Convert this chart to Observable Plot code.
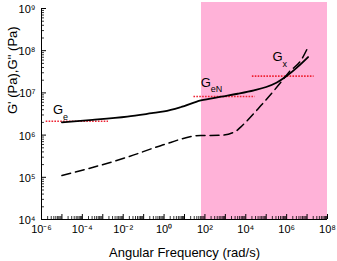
<!DOCTYPE html>
<html><head><meta charset="utf-8">
<script src="https://cdn.jsdelivr.net/npm/d3@7"></script>
<script src="https://cdn.jsdelivr.net/npm/@observablehq/plot@0.6"></script>
<style>body{margin:0;background:#fff} #chart{width:337px;height:261px}</style>
</head><body><div id="chart"></div>
<script>
// ---- data ----
const omegaGp = [1e-5, 3.16e-4, 1.58e-2, 0.25, 1, 6.3, 63, 631, 3981, 2.51e4, 1e5, 3.16e5, 1e6, 3.16e6, 1.12e7];
const Gp      = [2.0e6, 2.29e6, 2.75e6, 3.3e6, 3.63e6, 4.57e6, 6.61e6, 8.13e6, 9.55e6, 1.15e7, 1.38e7, 1.74e7, 2.51e7, 3.98e7, 7.08e7];
const omegaGpp = [1e-5, 1.6e-2, 0.68, 62, 590, 3.2e3, 5.6e3, 5.5e4, 5.2e5, 1.3e6, 5e6, 1.1e7];
const Gpp      = [1.1e5, 3.0e5, 5.6e5, 9.8e5, 9.9e5, 1.23e6, 1.55e6, 5.0e6, 1.78e7, 3.1e7, 5.9e7, 1.2e8];
const refNames = ["Ge", "GeN", "Gx"];
const refFrom  = [1.7e-6, 29, 2.1e4];
const refTo    = [1.9e-3, 2.9e4, 2.2e7];
const refLevel = [2.13e6, 8.2e6, 2.5e7];
const labelSubs = ["e", "eN", "x"];
const labelOmega = [3.7e-6, 62, 2.04e5];
const labelG     = [4.0e6, 1.76e7, 7.2e7];
const regionOmega = [68, 1e8];
const xExponents = [-6, -5, -4, -3, -2, -1, 0, 1, 2, 3, 4, 5, 6, 7, 8];
const xLabelExponents = [-6, -4, -2, 0, 2, 4, 6, 8];
const yExponents = [4, 5, 6, 7, 8, 9];
const xTitle = "Angular Frequency (rad/s)";
const yTitle = "G' (Pa),G'' (Pa)";

// ---- helpers ----
const W = 337, H = 261, mL = 41, mR = 10, mT = 8, mB = 42;
const pw = W - mL - mR, ph = H - mT - mB;
const supMap = {"0":"⁰","1":"¹","2":"²","3":"³","4":"⁴","5":"⁵","6":"⁶","7":"⁷","8":"⁸","9":"⁹","-":"⁻"};
const sup = n => String(n).split("").map(c => supMap[c] || c).join("");
const gp = omegaGp.map((w, i) => ({w, G: Gp[i]}));
const gpp = omegaGpp.map((w, i) => ({w, G: Gpp[i]}));
const refs = refNames.map((n, i) => ({n, w1: refFrom[i], w2: refTo[i], G: refLevel[i]}));
const labels = labelSubs.map((s, i) => ({s, w: labelOmega[i], G: labelG[i]}));
const xMajor = xExponents.map(e => 10 ** e);
const xMinor = xExponents.slice(0, -1).flatMap(e => d3.range(2, 10).map(k => k * 10 ** e));
const yMajor = yExponents.map(e => 10 ** e);
const yMinor = yExponents.slice(0, -1).flatMap(e => d3.range(2, 10).map(k => k * 10 ** e));
const xDom = [10 ** xExponents[0], 10 ** xExponents[xExponents.length - 1]];
const yDom = [10 ** yExponents[0], 10 ** yExponents[yExponents.length - 1]];
const pinkTop = 10 ** (yExponents[yExponents.length - 1] + 6 / (ph / (yExponents.length - 1)));

const chart = Plot.plot({
  width: W, height: H,
  marginLeft: mL, marginRight: mR, marginTop: mT, marginBottom: mB,
  style: {fontFamily: "'Liberation Sans', Arial, sans-serif", background: "#fff"},
  x: {type: "log", domain: xDom, axis: null},
  y: {type: "log", domain: yDom, axis: null},
  marks: [
    Plot.rect([0], {x1: () => regionOmega[0], x2: () => regionOmega[1], y1: () => yDom[0], y2: () => pinkTop, fill: "#ffb2d8"}),
    Plot.ruleY(refs, {y: "G", x1: "w1", x2: "w2", stroke: "#ee2233", strokeWidth: 1.6, strokeDasharray: "1.6,1.3"}),
    Plot.line(gpp, {x: "w", y: "G", stroke: "#000", strokeWidth: 1.5, strokeDasharray: "9,5", curve: "monotone-x"}),
    Plot.line(gp, {x: "w", y: "G", stroke: "#000", strokeWidth: 1.8, curve: "monotone-x"}),
    Plot.ruleX([xDom[0]], {stroke: "#000", strokeWidth: 1}),
    Plot.ruleY([yDom[0]], {stroke: "#000", strokeWidth: 1}),
    Plot.tickY(yMajor, {y: d => d, insetRight: pw - 5, stroke: "#000"}),
    Plot.tickY(yMinor, {y: d => d, insetRight: pw - 3, stroke: "#000", strokeWidth: 0.8}),
    Plot.tickX(xMajor, {x: d => d, insetTop: ph - 5, stroke: "#000"}),
    Plot.tickX(xMinor, {x: d => d, insetTop: ph - 3, stroke: "#000", strokeWidth: 0.8}),
    Plot.text(yExponents, {y: d => 10 ** d, text: d => "10" + sup(d), frameAnchor: "left", textAnchor: "end", dx: -6, dy: 1, fontSize: 11, fill: "#000"}),
    Plot.text(xLabelExponents, {x: d => 10 ** d, text: d => "10" + sup(d), frameAnchor: "bottom", lineAnchor: "top", dy: 6, fontSize: 11, fill: "#000"}),
    Plot.text([xTitle], {text: d => d, frameAnchor: "bottom", lineAnchor: "bottom", dy: 37, fontSize: 13, fill: "#000"}),
    Plot.text([yTitle], {text: d => d, frameAnchor: "left", rotate: -90, dx: -29, fontSize: 13, fill: "#000"}),
    Plot.text(labels, {x: "w", y: "G", text: () => "G", textAnchor: "start", fontSize: 13, fill: "#000"}),
    Plot.text(labels, {x: "w", y: "G", text: "s", textAnchor: "start", dx: 10, dy: 7, fontSize: 9, fill: "#000"})
  ]
});
document.getElementById("chart").appendChild(chart);
</script>
</body></html>
